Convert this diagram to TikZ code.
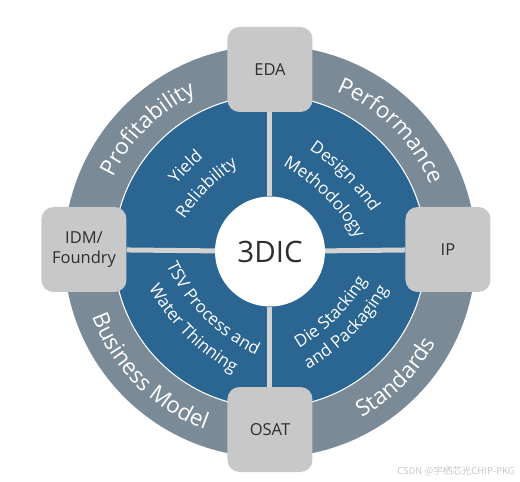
\documentclass[tikz,border=0pt]{standalone}
\usepackage{fontspec}
\setmainfont{Open Sans}
\newfontfamily\cjkfont{Noto Sans CJK SC}
\usetikzlibrary{decorations.text}

\definecolor{ringgrey}{HTML}{7A8A96}
\definecolor{coreblue}{HTML}{2B6592}
\definecolor{boxgrey}{HTML}{C8C8C8}
\definecolor{linegrey}{HTML}{D2D2D2}
\definecolor{textgrey}{HTML}{2E2E2E}
\newcommand{\ringfont}{\fontsize{22.5}{27}\selectfont}
\newcommand{\quadfont}{\fontsize{17}{20}\selectfont}
\newcommand{\boxfont}{\fontsize{16.5}{19.5}\selectfont}

\tikzset{
	partner/.style={fill=boxgrey,rounded corners=12pt,minimum size=85pt,inner sep=0pt,
		align=center,text=textgrey,font=\boxfont},
	divider/.style={linegrey,line width=5pt},
	ringtext/.style={decorate,decoration={text along path,text align=center,
		text color=white,text={|\ringfont|#1}}},
	quadtext/.style={decorate,decoration={text along path,text align=center,
		text color=white,text={|\quadfont|#1}}}
}

\begin{document}
\begin{tikzpicture}[x=1pt,y=1pt]
	\useasboundingbox (-270,-230.5) rectangle (250,251.5);
	%Vong ngoai
	\fill[ringgrey] (0,0) circle (206);
	\fill[white] (0,0) circle (156.6);
	\fill[coreblue] (0,0) circle (155.4);
	%Chu tren vong ngoai
	\path[ringtext=Profitability] (165:173.5) arc[start angle=165,end angle=105,radius=173.5];
	\path[ringtext=Performance] (75:173.5) arc[start angle=75,end angle=15,radius=173.5];
	\path[ringtext=Business Model] (195:189.5) arc[start angle=195,end angle=255,radius=189.5];
	\path[ringtext=Standards] (285:189.5) arc[start angle=285,end angle=345,radius=189.5];
	%Goc tren trai
	\begin{scope}[shift={(315:103)}]
		\path[quadtext=Reliability] (162:190) arc[start angle=162,end angle=108,radius=190];
		\path[quadtext=Yield] (162:217) arc[start angle=162,end angle=108,radius=217];
	\end{scope}
	%Goc tren phai
	\begin{scope}[shift={(225:113)}]
		\path[quadtext=Methodology] (72:190) arc[start angle=72,end angle=18,radius=190];
		\path[quadtext=Design and] (72:217) arc[start angle=72,end angle=18,radius=217];
	\end{scope}
	%Goc duoi trai
	\begin{scope}[shift={(45:96)}]
		\path[quadtext=TSV Process and] (198:190) arc[start angle=198,end angle=252,radius=190];
		\path[quadtext=Water Thinning] (198:216) arc[start angle=198,end angle=252,radius=216];
	\end{scope}
	%Goc duoi phai
	\begin{scope}[shift={(135:95)}]
		\path[quadtext=Die Stacking] (288:190) arc[start angle=288,end angle=342,radius=190];
		\path[quadtext=and Packaging] (288:213) arc[start angle=288,end angle=342,radius=213];
	\end{scope}
	%Tam va cac o
	\node[circle,fill=white,minimum size=110pt,inner sep=0pt,text=textgrey,
		font=\fontsize{29.5}{34}\selectfont] (core) at (0,0) {3DIC};
	\node[partner] (eda) at (0,182) {EDA};
	\node[partner] (ip) at (178,2) {IP};
	\node[partner] (osat) at (0,-178) {OSAT};
	\node[partner] (idm) at (-186,2) {IDM/\\Foundry};
	%Duong chia
	\draw[divider] (core) -- (eda);
	\draw[divider] (core) -- (ip);
	\draw[divider] (core) -- (osat);
	\draw[divider] (core) -- (idm);
	%Ghi chu
	\node[text=black!22,font=\cjkfont\fontsize{9.5}{11}\selectfont] (mark) at (186,-220) {CSDN @宇栖芯光CHIP-PKG};
\end{tikzpicture}
\end{document}
